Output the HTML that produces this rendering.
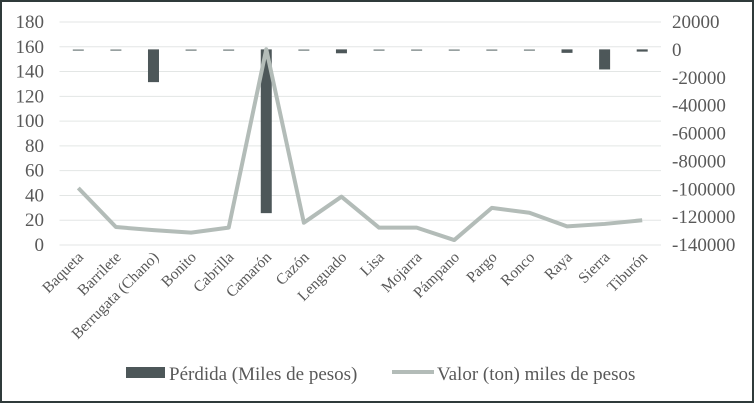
<!DOCTYPE html>
<html><head><meta charset="utf-8"><style>
html,body{margin:0;padding:0;background:#fff}
svg,svg text{font-family:"Liberation Serif","DejaVu Serif",serif}
</style></head><body>
<svg id="chart" width="754" height="403" viewBox="0 0 754 403" font-family="Liberation Serif, serif">
<rect x="1" y="1" width="752" height="401" fill="#fff" stroke="#2f3a3a" stroke-width="2"/>
<g id="grid"></g><g id="bars"></g><g id="line"></g><g id="axes"></g>
<g>
<rect x="126" y="367" width="39" height="11" fill="#4d5759"/>
<text x="169" y="380" font-size="19" fill="#595959" font-family="Liberation Serif, serif">Pérdida (Miles de pesos)</text>
<line x1="392" y1="372" x2="434" y2="372" stroke="#b3bcb8" stroke-width="4"/>
<text x="437" y="380" font-size="19" fill="#595959" font-family="Liberation Serif, serif">Valor (ton) miles de pesos</text>
</g>
</svg>
<script>
const categories=["Baqueta","Barrilete","Berrugata (Chano)","Bonito","Cabrilla","Camarón","Cazón","Lenguado","Lisa","Mojarra","Pámpano","Pargo","Ronco","Raya","Sierra","Tiburón"];
const valor=[46,14.5,12,10,14,158,18,39,14,14,4,30,26,15,17,20];
const perdida=[-400,-400,-23500,-400,-400,-117500,-200,-2800,-200,-400,-400,-200,-400,-2500,-14400,-1600];
const leftTicks=[0,20,40,60,80,100,120,140,160,180];
const rightTicks=[20000,0,-20000,-40000,-60000,-80000,-100000,-120000,-140000];
const NS="http://www.w3.org/2000/svg";
const FONT="Liberation Serif, serif";
const X0=59.5,X1=661,YT=22,YB=245;
const band=(X1-X0)/categories.length;
const xc=i=>X0+band*(i+0.5);
const yl=v=>YB-(v-0)/180*(YB-YT);
const yr=v=>YB-(v+140000)/160000*(YB-YT);
function mk(tag,attrs,parent){const e=document.createElementNS(NS,tag);for(const k in attrs)e.setAttribute(k,attrs[k]);parent.appendChild(e);return e;}
const grid=document.getElementById('grid'),axes=document.getElementById('axes'),bars=document.getElementById('bars'),lineG=document.getElementById('line');
leftTicks.forEach(t=>{
 const l=mk('line',{x1:X0,x2:X1,y1:yl(t),y2:yl(t),stroke:'#e3e6e5','stroke-width':1},grid);
 
 
 const tx=mk('text',{x:44,y:yl(t)+6,'text-anchor':'end','font-size':19,fill:'#595959','font-family':FONT},axes);
 tx.textContent=t;
 
 
});
rightTicks.forEach(t=>{
 const tx=mk('text',{x:672,y:yr(t)+6,'font-size':19,fill:'#595959','font-family':FONT},axes);
 tx.textContent=t;
 
 
});
categories.forEach((c,i)=>{
 const tx=mk('text',{x:0,y:0,'text-anchor':'end','font-size':15.5,fill:'#595959','font-family':FONT,transform:`translate(${xc(i)+6},${258}) rotate(-45)`},axes);
 tx.textContent=c;
 
 
});
perdida.forEach((v,i)=>{
 const y0=yr(0),y1=yr(v);
 const r=mk('rect',{x:xc(i)-5.5,y:Math.min(y0,y1)-0.5,width:11,height:Math.max(1.5,Math.abs(y1-y0)),fill:Math.abs(v)<800?'#8a9494':'#4d5759'},bars);
 
 
});
const p=mk('polyline',{points:valor.map((v,i)=>xc(i)+','+yl(v)).join(' '),fill:'none',stroke:'#b3bcb8','stroke-width':4,'stroke-linejoin':'round'},lineG);


</script>
</body></html>
